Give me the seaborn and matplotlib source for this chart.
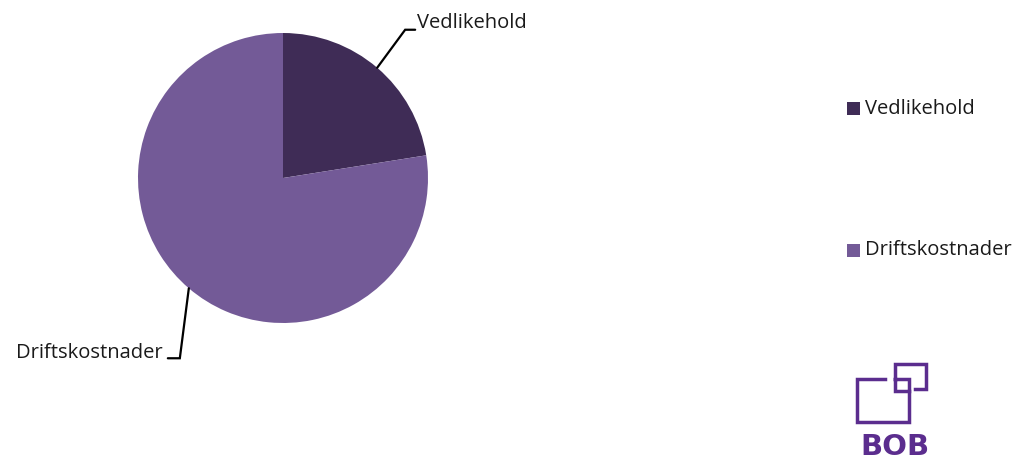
import numpy as np
import matplotlib
matplotlib.use("Agg")
import matplotlib.pyplot as plt
import seaborn as sns
from matplotlib.lines import Line2D

categories = ["Vedlikehold", "Driftskostnader"]
values = [22.5, 77.5]
colors = ["#3f2c56", "#735a97"]

sns.set_theme(style="white")
plt.rcParams['font.family'] = ['Open Sans', 'DejaVu Sans']

W, H = 1016, 461
fig = plt.figure(figsize=(W / 100, H / 100), dpi=100)
fig.patch.set_facecolor("white")

cx, cy, r = 283, 178, 145
ax = fig.add_axes([(cx - r) / W, (H - cy - r) / H, 2 * r / W, 2 * r / H])
wedges, _ = ax.pie(values, colors=colors, startangle=90, counterclock=False,
                   radius=1, wedgeprops=dict(linewidth=0))
ax.set_xlim(-1, 1)
ax.set_ylim(-1, 1)
ax.set_aspect("equal")
ax.axis("off")

px = 1.0 / r  # data units per pixel
txt_color = "#1a1a1a"
fs = 14.5

specs = {
    "Vedlikehold": dict(elbow=(28, 38), run=10, ha="left", toff=(2, 7)),
    "Driftskostnader": dict(elbow=(-9, -70), run=-12, ha="right", toff=(-5, 5)),
}
for w, name in zip(wedges, categories):
    ang = np.deg2rad((w.theta1 + w.theta2) / 2)
    x0, y0 = np.cos(ang), np.sin(ang)
    s = specs[name]
    x1, y1 = x0 + s["elbow"][0] * px, y0 + s["elbow"][1] * px
    x2, y2 = x1 + s["run"] * px, y1
    ax.plot([x0, x1, x2], [y0, y1, y2], color="black", lw=1.6,
            solid_joinstyle="miter", clip_on=False)
    ax.text(x2 + s["toff"][0] * px, y2 + s["toff"][1] * px, name,
            ha=s["ha"], va="center", fontsize=fs, color=txt_color, clip_on=False)

# legend
leg_y = [108.5, 250]
for c, name, yy in zip(colors, categories, leg_y):
    fig.patches.append(plt.Rectangle((847 / W, (H - yy - 6.5) / H), 13 / W, 13 / H,
                                     facecolor=c, edgecolor="none",
                                     transform=fig.transFigure, figure=fig))
    fig.text(865 / W, (H - yy) / H, name, ha="left", va="center",
             fontsize=fs, color=txt_color)

# BOB logo
lc = "#5b2d8e"
def seg(xs, ys):
    fig.add_artist(Line2D([x / W for x in xs], [(H - y) / H for y in ys],
                          color=lc, lw=2.5, solid_capstyle="projecting",
                          solid_joinstyle="miter", transform=fig.transFigure))
seg([885, 856.5, 856.5, 908.5, 908.5], [379, 379, 421.5, 421.5, 391])
seg([894.5, 908.5, 908.5, 894.5, 894.5], [379, 379, 391, 391, 379])
seg([894.5, 894.5, 925.5, 925.5, 915], [379, 363.5, 363.5, 388.5, 388.5])
fig.text(895 / W, (H - 447) / H, "BOB", ha="center", va="center",
         fontsize=21, fontweight="bold", color=lc, family="DejaVu Sans")

fig.savefig("out.png", dpi=100, facecolor="white")
